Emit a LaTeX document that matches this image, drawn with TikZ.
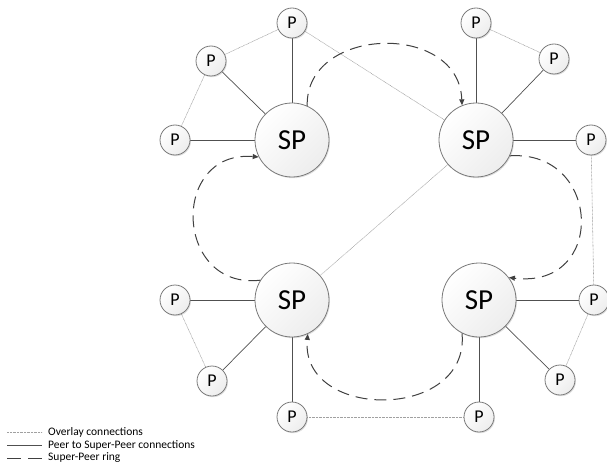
\documentclass[tikz,border=0pt]{standalone}
\usepackage{fontspec}
\setmainfont{Carlito}
\usetikzlibrary{arrows.meta,shadows,backgrounds}
\definecolor{lineDark}{HTML}{404040}
\definecolor{peerGray}{HTML}{505050}
\definecolor{circBorder}{HTML}{7A7A7A}
\definecolor{overlayGray}{HTML}{A0A0A0}
\begin{document}
\begin{tikzpicture}[x=1pt,y=-1pt,
  basecirc/.style={circle, draw=circBorder, line width=0.8pt, inner sep=0pt,
    top color=white, bottom color=gray!14, shading angle=45,
    drop shadow={shadow xshift=1pt, shadow yshift=-1.2pt, opacity=0.25, fill=gray}},
  spnode/.style={basecirc, minimum size=74pt, font=\fontsize{29}{29}\selectfont},
  pnode/.style={basecirc, minimum size=30pt, font=\fontsize{18}{18}\selectfont},
  peerline/.style={draw=peerGray, line width=0.7pt},
  overlay/.style={draw=overlayGray, line width=0.55pt, dash pattern=on 0.8pt off 0.6pt},
  ring/.style={draw=lineDark, line width=1pt, dash pattern=on 12pt off 7pt,
    -{Triangle[length=6pt,width=5pt]}},
  legendring/.style={draw=lineDark, line width=1pt, dash pattern=on 14pt off 7pt},
  legendtext/.style={anchor=west, inner sep=0pt, font=\fontsize{11.5}{13}\selectfont}
]
\useasboundingbox (0,0) rectangle (607,465);

% super-peers
\node[spnode] (TL) at (292,140) {SP};
\node[spnode] (TR) at (476,140) {SP};
\node[spnode] (BL) at (292,300) {SP};
\node[spnode] (BR) at (479,300) {SP};

% peers
\node[pnode] (tl1) at (292,23) {P};
\node[pnode] (tl2) at (211,61) {P};
\node[pnode] (tl3) at (175,140) {P};
\node[pnode] (tr1) at (476,23) {P};
\node[pnode] (tr2) at (554,59) {P};
\node[pnode] (tr3) at (591,140) {P};
\node[pnode] (bl1) at (175,300) {P};
\node[pnode] (bl2) at (212,381) {P};
\node[pnode] (bl3) at (292,417) {P};
\node[pnode] (br1) at (594,300) {P};
\node[pnode] (br2) at (560,380) {P};
\node[pnode] (br3) at (479,417) {P};

\begin{pgfonlayer}{background}
% overlay connections
\draw[overlay] (tl1) -- (tl2);
\draw[overlay] (tl2) -- (tl3);
\draw[overlay] (tl1) -- (TR);
\draw[overlay] (tr1) -- (tr2);
\draw[overlay] (tr3) -- (br1);
\draw[overlay] (TR) -- (BL);
\draw[overlay] (bl1) -- (bl2);
\draw[overlay] (bl3) -- (br3);
\draw[overlay] (br1) -- (br2);
% peer to super-peer
\draw[peerline] (TL) -- (tl1);
\draw[peerline] (TL) -- (tl2);
\draw[peerline] (TL) -- (tl3);
\draw[peerline] (TR) -- (tr1);
\draw[peerline] (TR) -- (tr2);
\draw[peerline] (TR) -- (tr3);
\draw[peerline] (BL) -- (bl1);
\draw[peerline] (BL) -- (bl2);
\draw[peerline] (BL) -- (bl3);
\draw[peerline] (BR) -- (br1);
\draw[peerline] (BR) -- (br2);
\draw[peerline] (BR) -- (br3);
\end{pgfonlayer}

% super-peer ring
\draw[ring] (TL.66) .. controls +(-2,-80) and +(-3,-84) .. (TR.112);
\draw[ring] (TR.-25) .. controls +(92,-6) and +(98,12) .. (BR.37);
\draw[ring] (BR.-117) .. controls +(8,88) and +(-8,87) .. (BL.-65);
\draw[ring] (BL.148) .. controls +(-86,10) and +(-89,-7) .. (TL.207);

% legend
\coordinate (l1a) at (7,432); \coordinate (l1b) at (42,432);
\coordinate (l2a) at (7,445); \coordinate (l2b) at (42,445);
\coordinate (l3a) at (7,458); \coordinate (l3b) at (42,458);
\draw[overlay] (l1a) -- (l1b);
\draw[peerline] (l2a) -- (l2b);
\draw[legendring] (l3a) -- (l3b);
\node[legendtext] (t1) at (48,432) {Overlay connections};
\node[legendtext] (t2) at (48,445) {Peer to Super-Peer connections};
\node[legendtext] (t3) at (48,458) {Super-Peer ring};
\end{tikzpicture}
\end{document}
